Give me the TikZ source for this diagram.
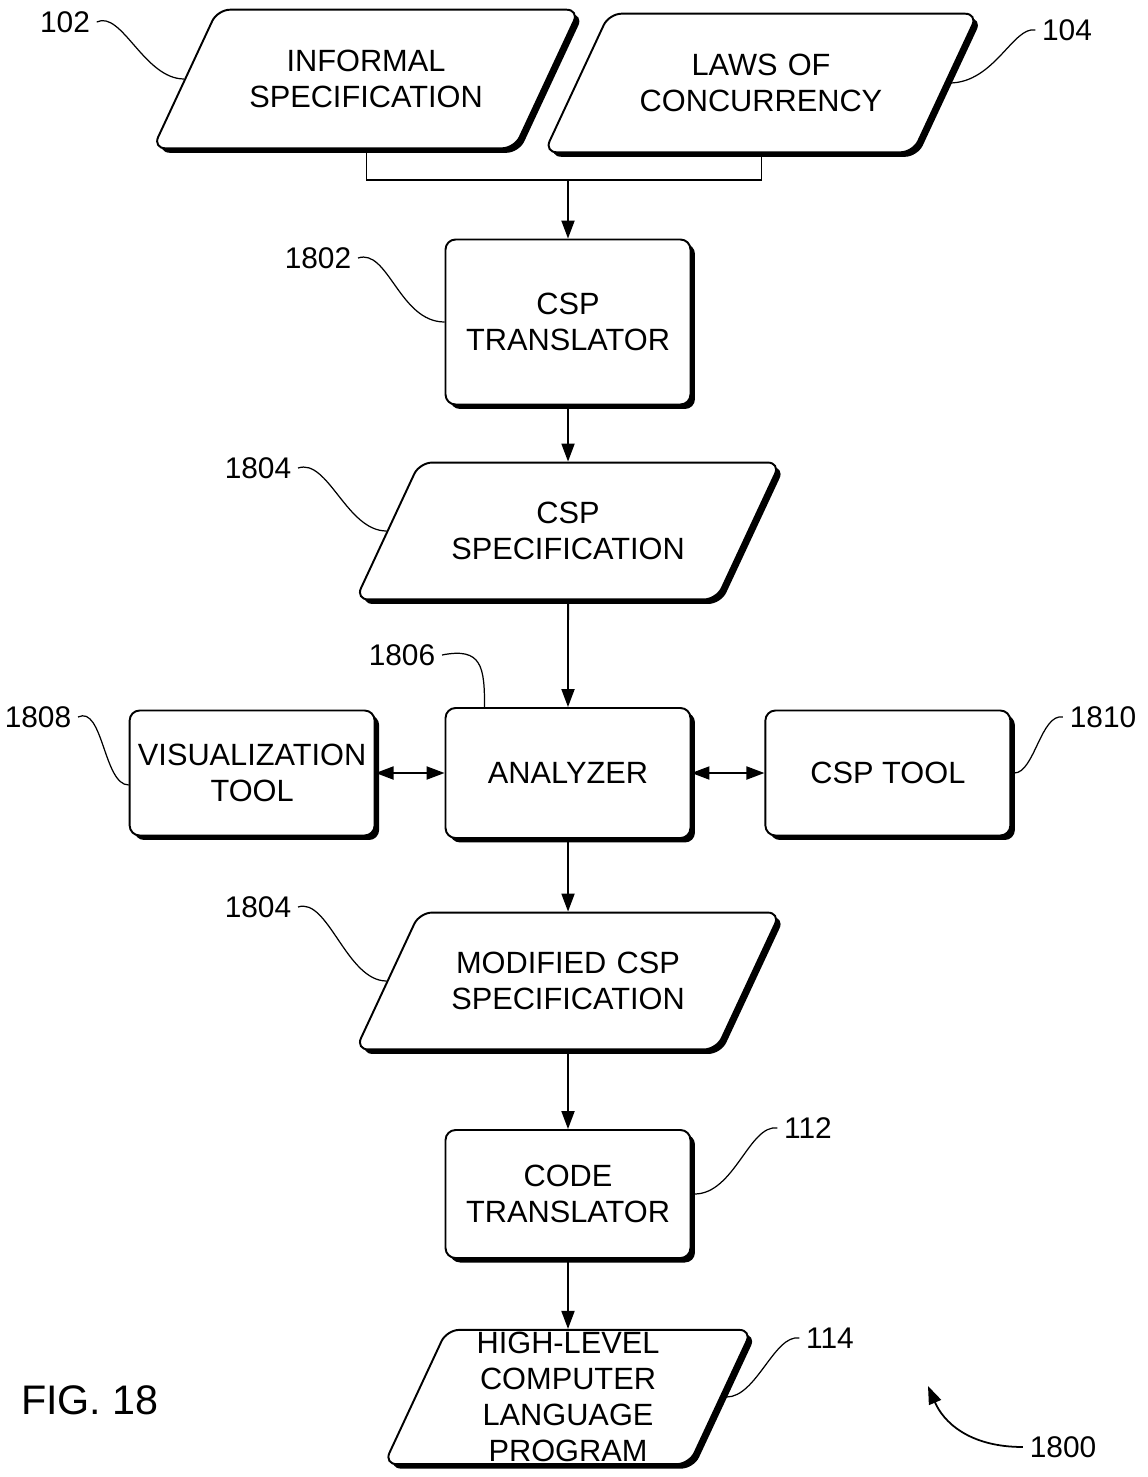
\documentclass[tikz,border=0pt]{standalone}
\usepackage{fontspec}
\setmainfont{Liberation Sans}
\usepackage{tikz}
\usetikzlibrary{shapes.geometric}
\usetikzlibrary{shadows}
\usetikzlibrary{arrows.meta}
\usetikzlibrary{positioning}

\begin{document}
\begin{tikzpicture}[x=0.02cm,y=-0.02cm,
	line width=1.1pt,
	>={Triangle[length=0.36cm,width=0.26cm]},
	font=\fontsize{17.5}{20.5}\selectfont,
	shdw/.style={drop shadow={shadow xshift=0.09cm,shadow yshift=-0.09cm,fill=black,opacity=1}},
	blk/.style={rectangle,draw,fill=white,rounded corners=0.2cm,align=center,inner xsep=2pt,shdw,minimum width=4.9cm},
	para/.style={trapezium,trapezium left angle=65,trapezium right angle=115,
		draw,fill=white,rounded corners=0.25cm,align=center,shdw,text width=161pt,inner xsep=4pt,inner ysep=23pt},
	num/.style={font=\fontsize{17}{20}\selectfont},
	lead/.style={line width=0.7pt}]
  \useasboundingbox (0,0) rectangle (1147,1477);

  % inputs
  \node[para] (inf) at (366,79) {INFORMAL\\SPECIFICATION};
  \node[para,text width=165pt] (laws) at (761,83) {LAWS OF\\CONCURRENCY};
  \coordinate (join) at (568,180);

  % main column
  \node[blk,minimum height=3.3cm] (tr) at (568,322) {CSP\\TRANSLATOR};
  \node[para,inner ysep=22.5pt] (spec) at (568,531) {CSP\\SPECIFICATION};
  \node[blk,minimum height=2.6cm] (ana) at (568,773) {ANALYZER};
  \node[blk,minimum height=2.5cm,left=1.38cm of ana] (vis) {VISUALIZATION\\TOOL};
  \node[blk,minimum height=2.5cm,right=1.46cm of ana] (tool) {CSP TOOL};
  \node[para,inner ysep=22.5pt] (mod) at (568,981) {MODIFIED CSP\\SPECIFICATION};
  \node[blk,minimum height=2.56cm] (code) at (568,1194) {CODE\\TRANSLATOR};
  \node[para,text width=0pt,inner xsep=69pt,inner ysep=38.2pt] (hll) at (568,1397) {};
  \node[align=center] (hlltxt) at (hll.center) {HIGH-LEVEL\\COMPUTER\\LANGUAGE\\PROGRAM};

  % connectors
  \draw[line width=0.6pt] (inf.south) |- (join) -| (laws.south);
  \draw[->] (join) -- (tr);
  \draw[->] (tr) -- (spec);
  \draw[->] (spec) -- (ana);
  \draw[<->] (vis) -- (ana);
  \draw[<->] (ana) -- (tool);
  \draw[->] (ana) -- (mod);
  \draw[->] (mod) -- (code);
  \draw[->] (code) -- (hll);

  % reference numbers
  \node[num] (l102) at (65,22) {102};
  \node[num] (l104) at (1067,30) {104};
  \node[num] (l1802) at (318,258) {1802};
  \node[num] (l1804a) at (258,468) {1804};
  \node[num] (l1806) at (402,655) {1806};
  \node[num] (l1808) at (38,717) {1808};
  \node[num] (l1810) at (1103,717) {1810};
  \node[num] (l1804b) at (258,907) {1804};
  \node[num] (l112) at (808,1128) {112};
  \node[num] (l114) at (830,1338) {114};
  \node[num] (l1800) at (1063,1447) {1800};
  \coordinate (c1800) at (928,1386);
  \node[font=\fontsize{23.5}{28}\selectfont] (fig) at (90,1400) {FIG. 18};

  \draw[lead] (l102.east) .. controls +(25,-12) and +(-40,0) .. (inf.left side);
  \draw[lead] (l104.west) .. controls +(-22,-4) and +(45,0) .. ([xshift=0.06cm]laws.right side);
  \draw[lead] (l1802.east) .. controls +(30,-10) and +(-45,0) .. (tr.west);
  \draw[lead] (l1804a.east) .. controls +(30,-10) and +(-40,0) .. (spec.left side);
  \draw[lead] (l1806.east) .. controls +(40,-8) and +(0,-40) .. ([xshift=0.8cm]ana.north west);
  \draw[lead] (l1808.east) .. controls +(25,-12) and +(-25,0) .. ([yshift=-0.24cm]vis.west);
  \draw[lead] (l1810.west) .. controls +(-22,-4) and +(20,0) .. ([xshift=0.06cm]tool.east);
  \draw[lead] (l1804b.east) .. controls +(30,-10) and +(-40,0) .. (mod.left side);
  \draw[lead] (l112.west) .. controls +(-28,-4) and +(40,0) .. ([xshift=0.06cm]code.east);
  \draw[lead] (l114.west) .. controls +(-25,-4) and +(30,0) .. ([xshift=0.1cm]hll.right side);
  \draw[->,line width=1pt] (l1800.west) .. controls +(-55,0) and +(15,35) .. (c1800);
\end{tikzpicture}
\end{document}
